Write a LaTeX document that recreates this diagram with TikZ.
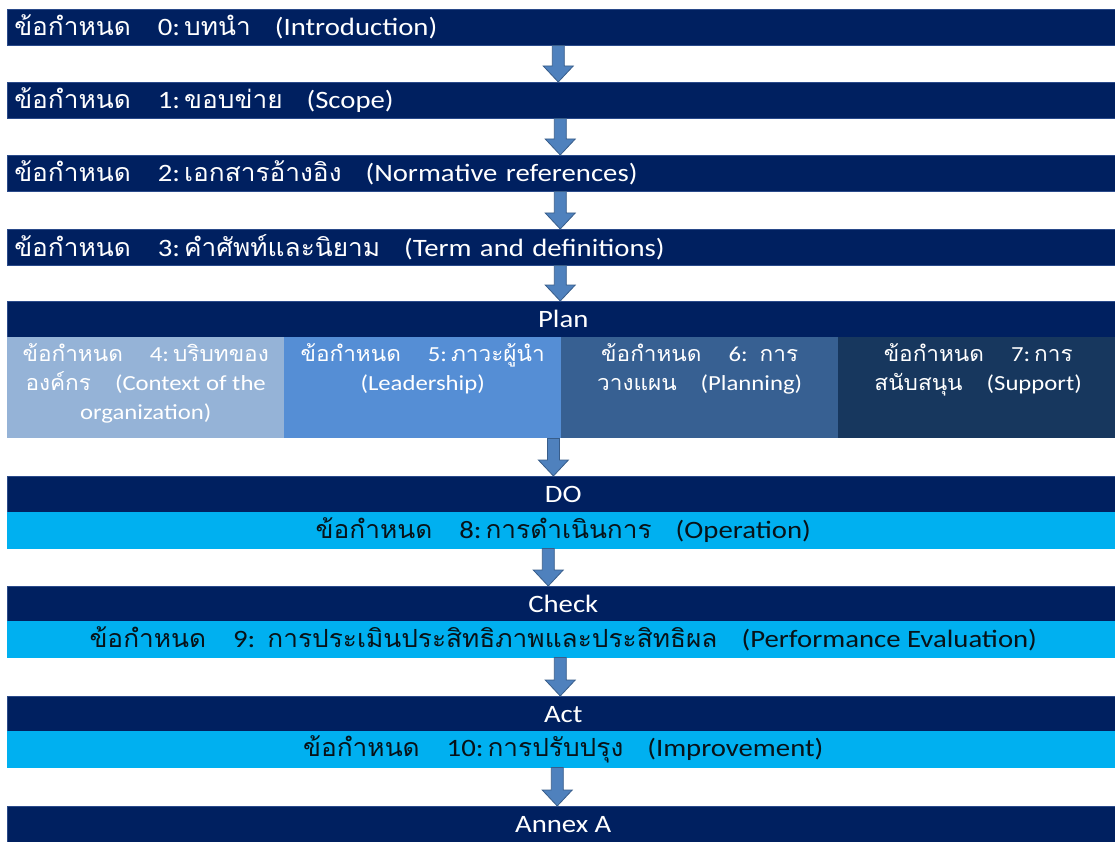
\documentclass[tikz,border=0pt]{standalone}
\usepackage{fontspec}
\setmainfont{Carlito}[FakeStretch=1.15]
\newfontfamily\thaifont[Script=Thai,FakeStretch=1.05]{Loma}
\newcommand\thx[1]{{\thaifont #1}}
\usetikzlibrary{calc}
\definecolor{navy}{HTML}{002060}
\definecolor{barline}{HTML}{2A4A8A}
\definecolor{lightcyan}{HTML}{00B0F0}
\definecolor{darktext}{HTML}{081218}
\definecolor{subA}{HTML}{95B3D7}
\definecolor{subB}{HTML}{558ED5}
\definecolor{subC}{HTML}{376092}
\definecolor{subD}{HTML}{17375E}
\definecolor{arrowfill}{HTML}{4F81BD}
\definecolor{arrowline}{HTML}{385D8A}
\begin{document}
\begin{tikzpicture}[x=1pt,y=-1pt,
  bar/.style={anchor=north west, fill=navy, draw=barline, line width=0.5pt,
    minimum width=1112pt, minimum height=36pt, inner sep=0pt, text=white,
    font=\fontsize{25}{30}\selectfont},
  leftbar/.style={bar, text width=1098pt, align=left},
  centerbar/.style={bar, align=center},
  lightbar/.style={bar, fill=lightcyan, draw=lightcyan, text=darktext},
  subbox/.style={anchor=north west, minimum width=277pt, minimum height=101pt,
    inner sep=0pt, text=white, font=\fontsize{21.5}{29}\selectfont},
  blockarrow/.style={draw=arrowline, fill=arrowfill, line width=0.8pt, line join=miter,
    to path={let \p1=(\tikztostart), \p2=(\tikztotarget) in
      (\x1-6pt,\y1) -- (\x1+6pt,\y1) -- (\x1+6pt,\y2+16pt) -- (\x1+15pt,\y2+16pt)
      -- (\x1,\y2) -- (\x1-15pt,\y2+16pt) -- (\x1-6pt,\y2+16pt) -- cycle}}
]
\useasboundingbox (0,0) rectangle (1115,842);
\fill[white] (0,0) rectangle (1115,842);

\newcommand\gapA{\hspace{27pt}}
\newcommand\gapB{\hspace{24pt}}
\newcommand\gapC{\hspace{4pt}}
\newcommand\gapD{\hspace{12pt}}

\node[leftbar] (b0) at (7,9) {\thx{ข้อกำหนด}\gapA 0:\gapC\thx{บทนำ}\gapB (Introduction)};
\node[leftbar] (b1) at (7,82) {\thx{ข้อกำหนด}\gapA 1:\gapC\thx{ขอบข่าย}\gapB (Scope)};
\node[leftbar] (b2) at (7,155) {\thx{ข้อกำหนด}\gapA 2:\gapC\thx{เอกสารอ้างอิง}\gapB (Normative references)};
\node[leftbar] (b3) at (7,229) {\thx{ข้อกำหนด}\gapA 3:\gapC\thx{คำศัพท์และนิยาม}\gapB (Term and definitions)};

\node[centerbar] (plan) at (7,301) {Plan};
\node[subbox, fill=subA] (s1) at (7,337) {\parbox[c][101pt][t]{270pt}{\centering\vspace*{6pt}\thx{ข้อกำหนด}\gapA 4:\gapC\thx{บริบทของ}\\\thx{องค์กร}\gapB (Context of the\\organization)}};
\node[subbox, fill=subB] (s2) at (284,337) {\parbox[c][101pt][t]{270pt}{\centering\vspace*{6pt}\thx{ข้อกำหนด}\gapA 5:\gapC\thx{ภาวะผู้นำ}\\(Leadership)}};
\node[subbox, fill=subC] (s3) at (561,337) {\parbox[c][101pt][t]{270pt}{\centering\vspace*{6pt}\thx{ข้อกำหนด}\gapA 6:\gapD\thx{การ}\\\thx{วางแผน}\gapB (Planning)}};
\node[subbox, fill=subD, minimum width=280pt] (s4) at (838,337) {\parbox[c][101pt][t]{270pt}{\centering\vspace*{6pt}\thx{ข้อกำหนด}\gapA 7:\gapC\thx{การ}\\\thx{สนับสนุน}\gapB (Support)}};

\node[centerbar] (do) at (7,476) {DO};
\node[lightbar, align=center] (op) at (7,512) {\thx{ข้อกำหนด}\gapA 8:\gapC\thx{การดำเนินการ}\gapB (Operation)};
\node[centerbar] (check) at (7,586) {Check};
\node[lightbar, align=center] (ev) at (7,621) {\thx{ข้อกำหนด}\gapA 9:\gapD\thx{การประเมินประสิทธิภาพและประสิทธิผล}\gapB (Performance Evaluation)};
\node[centerbar] (act) at (7,696) {Act};
\node[lightbar, align=center] (imp) at (7,731) {\thx{ข้อกำหนด}\gapA 10:\gapC\thx{การปรับปรุง}\gapB (Improvement)};
\node[centerbar] (annex) at (7,806) {Annex A};

\draw[blockarrow] ([xshift=-5pt]b0.south) to ([xshift=-5pt]b1.north);
\draw[blockarrow] ([xshift=-3pt]b1.south) to ([xshift=-3pt]b2.north);
\draw[blockarrow] ([xshift=-3pt]b2.south) to ([xshift=-3pt]b3.north);
\draw[blockarrow] ([xshift=-3pt]b3.south) to ([xshift=-3pt]plan.north);
\draw[blockarrow] ([xshift=-8pt]s2.south east) to ([xshift=-10pt]do.north);
\draw[blockarrow] ([xshift=-15pt]op.south) to ([xshift=-15pt]check.north);
\draw[blockarrow] ([xshift=-3pt]ev.south) to ([xshift=-3pt]act.north);
\draw[blockarrow] ([xshift=-6pt]imp.south) to ([xshift=-6pt]annex.north);
\end{tikzpicture}
\end{document}
